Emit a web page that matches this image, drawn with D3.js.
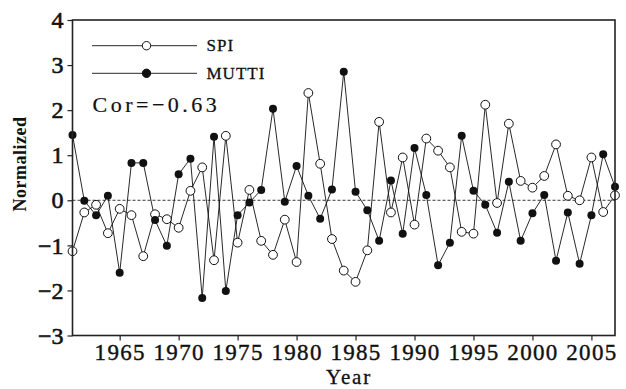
<!DOCTYPE html>
<html>
<head>
<meta charset="utf-8">
<script src="https://cdn.jsdelivr.net/npm/d3@7"></script>
<style>
  body { margin: 0; background: #fff; }
  text { font-family: "Liberation Serif", "DejaVu Serif", serif; fill: #111; }
</style>
</head>
<body>
<svg width="626" height="389"></svg>
<script>
var years = d3.range(1961, 2008);
var spi = [-1.13, -0.27, -0.10, -0.73, -0.19, -0.33, -1.24, -0.31, -0.42, -0.61,
  0.21, 0.73, -1.33, 1.43, -0.94, 0.23, -0.90, -1.21, -0.43, -1.37,
  2.38, 0.81, -0.86, -1.56, -1.81, -1.11, 1.74, -0.27, 0.95, -0.54,
  1.37, 1.10, 0.73, -0.70, -0.74, 2.12, -0.06, 1.70, 0.43, 0.28,
  0.54, 1.24, 0.10, 0.00, 0.95, -0.26, 0.11];
var mutti = [1.45, -0.01, -0.33, 0.10, -1.61, 0.83, 0.83, -0.44, -1.01, 0.58,
  0.92, -2.17, 1.41, -2.01, -0.33, -0.05, 0.23, 2.03, -0.03, 0.76,
  0.10, -0.41, 0.24, 2.85, 0.19, -0.22, -0.90, 0.44, -0.74, 1.16,
  0.12, -1.44, -0.94, 1.43, 0.21, -0.10, -0.72, 0.41, -0.90, -0.29,
  0.12, -1.34, -0.27, -1.41, -0.33, 1.02, 0.30];
var xTicks = [1965, 1970, 1975, 1980, 1985, 1990, 1995, 2000, 2005];
var yTicks = [-3, -2, -1, 0, 1, 2, 3, 4];

var serif = "Liberation Serif, DejaVu Serif, serif";
var svg = d3.select("svg");
var m = { left: 72.5, right: 615, top: 20, bottom: 335.5 };

var x = d3.scaleLinear().domain([1961, 2007]).range([m.left, m.right]);
var y = d3.scaleLinear().domain([-3, 4]).range([m.bottom, m.top]);

// zero reference line
svg.append("line")
  .attr("x1", m.left).attr("x2", m.right)
  .attr("y1", y(0)).attr("y2", y(0))
  .attr("stroke", "#222").attr("stroke-width", 0.9)
  .attr("stroke-dasharray", "3,2");

var line = d3.line()
  .x(function (d, i) { return x(years[i]); })
  .y(function (d) { return y(d); });

var plot = svg.append("g");

plot.append("path").datum(spi)
  .attr("d", line).attr("fill", "none")
  .attr("stroke", "#111").attr("stroke-width", 0.9);
plot.append("path").datum(mutti)
  .attr("d", line).attr("fill", "none")
  .attr("stroke", "#111").attr("stroke-width", 0.9);

plot.selectAll("circle.spi").data(spi).enter().append("circle")
  .attr("class", "spi")
  .attr("cx", function (d, i) { return x(years[i]); })
  .attr("cy", function (d) { return y(d); })
  .attr("r", 4.4).attr("fill", "#fff")
  .attr("stroke", "#111").attr("stroke-width", 1);

plot.selectAll("circle.mutti").data(mutti).enter().append("circle")
  .attr("class", "mutti")
  .attr("cx", function (d, i) { return x(years[i]); })
  .attr("cy", function (d) { return y(d); })
  .attr("r", 4).attr("fill", "#111");

// frame
svg.append("rect")
  .attr("x", m.left).attr("y", m.top)
  .attr("width", m.right - m.left).attr("height", m.bottom - m.top)
  .attr("fill", "none").attr("stroke", "#222").attr("stroke-width", 1.6);

// axes, ticks outward
var xAxis = svg.append("g").attr("transform", "translate(0," + m.bottom + ")")
  .call(d3.axisBottom(x).tickValues(xTicks).tickSize(5).tickPadding(3).tickFormat(d3.format("d")));
xAxis.attr("font-family", serif).attr("font-size", 23);
xAxis.select(".domain").remove();
xAxis.selectAll("line").attr("stroke", "#222").attr("stroke-width", 1.2);
xAxis.selectAll("text").attr("fill", "#111")
  .style("font-family", serif).style("font-size", "23px")
  .attr("letter-spacing", 1.3)
  .attr("stroke", "#111").attr("stroke-width", 0.4);

var yAxis = svg.append("g").attr("transform", "translate(" + m.left + ",0)")
  .call(d3.axisLeft(y).tickValues(yTicks).tickSize(5).tickPadding(4)
    .tickFormat(function (d) { return d < 0 ? "\u2212" + Math.abs(d) : d; }));
yAxis.attr("font-family", serif).attr("font-size", 24);
yAxis.select(".domain").remove();
yAxis.selectAll("line").attr("stroke", "#222").attr("stroke-width", 1.2);
yAxis.selectAll("text").attr("fill", "#111")
  .style("font-family", serif).style("font-size", "24px")
  .attr("stroke", "#111").attr("stroke-width", 0.6);

// axis titles
svg.append("text")
  .attr("transform", "translate(26,164) rotate(-90)")
  .attr("text-anchor", "middle")
  .attr("font-size", 18).attr("font-weight", "bold")
  .attr("letter-spacing", 0.5)
  .text("Normalized");
svg.append("text")
  .attr("x", 349).attr("y", 384)
  .attr("text-anchor", "middle")
  .attr("font-size", 21).attr("letter-spacing", 1.8)
  .attr("stroke", "#111").attr("stroke-width", 0.3)
  .text("Year");

// legend
var legend = [{ name: "SPI", fill: "#fff", y: 45.7 }, { name: "MUTTI", fill: "#111", y: 73.3 }];
legend.forEach(function (d) {
  svg.append("line").attr("x1", 92).attr("x2", 197)
    .attr("y1", d.y).attr("y2", d.y)
    .attr("stroke", "#111").attr("stroke-width", 0.9);
  svg.append("circle").attr("cx", 146.5).attr("cy", d.y).attr("r", 4.2)
    .attr("fill", d.fill).attr("stroke", "#111").attr("stroke-width", 1);
  svg.append("text").attr("x", 206.5).attr("y", d.y + 5.5)
    .attr("font-size", 17).attr("letter-spacing", 1)
    .attr("stroke", "#111").attr("stroke-width", 0.3)
    .text(d.name);
});
svg.append("text").attr("x", 92.5).attr("y", 112)
  .attr("font-size", 22).attr("letter-spacing", 3.5)
  .attr("stroke", "#111").attr("stroke-width", 0.2)
  .text("Cor=\u22120.63");
</script>
</body>
</html>
